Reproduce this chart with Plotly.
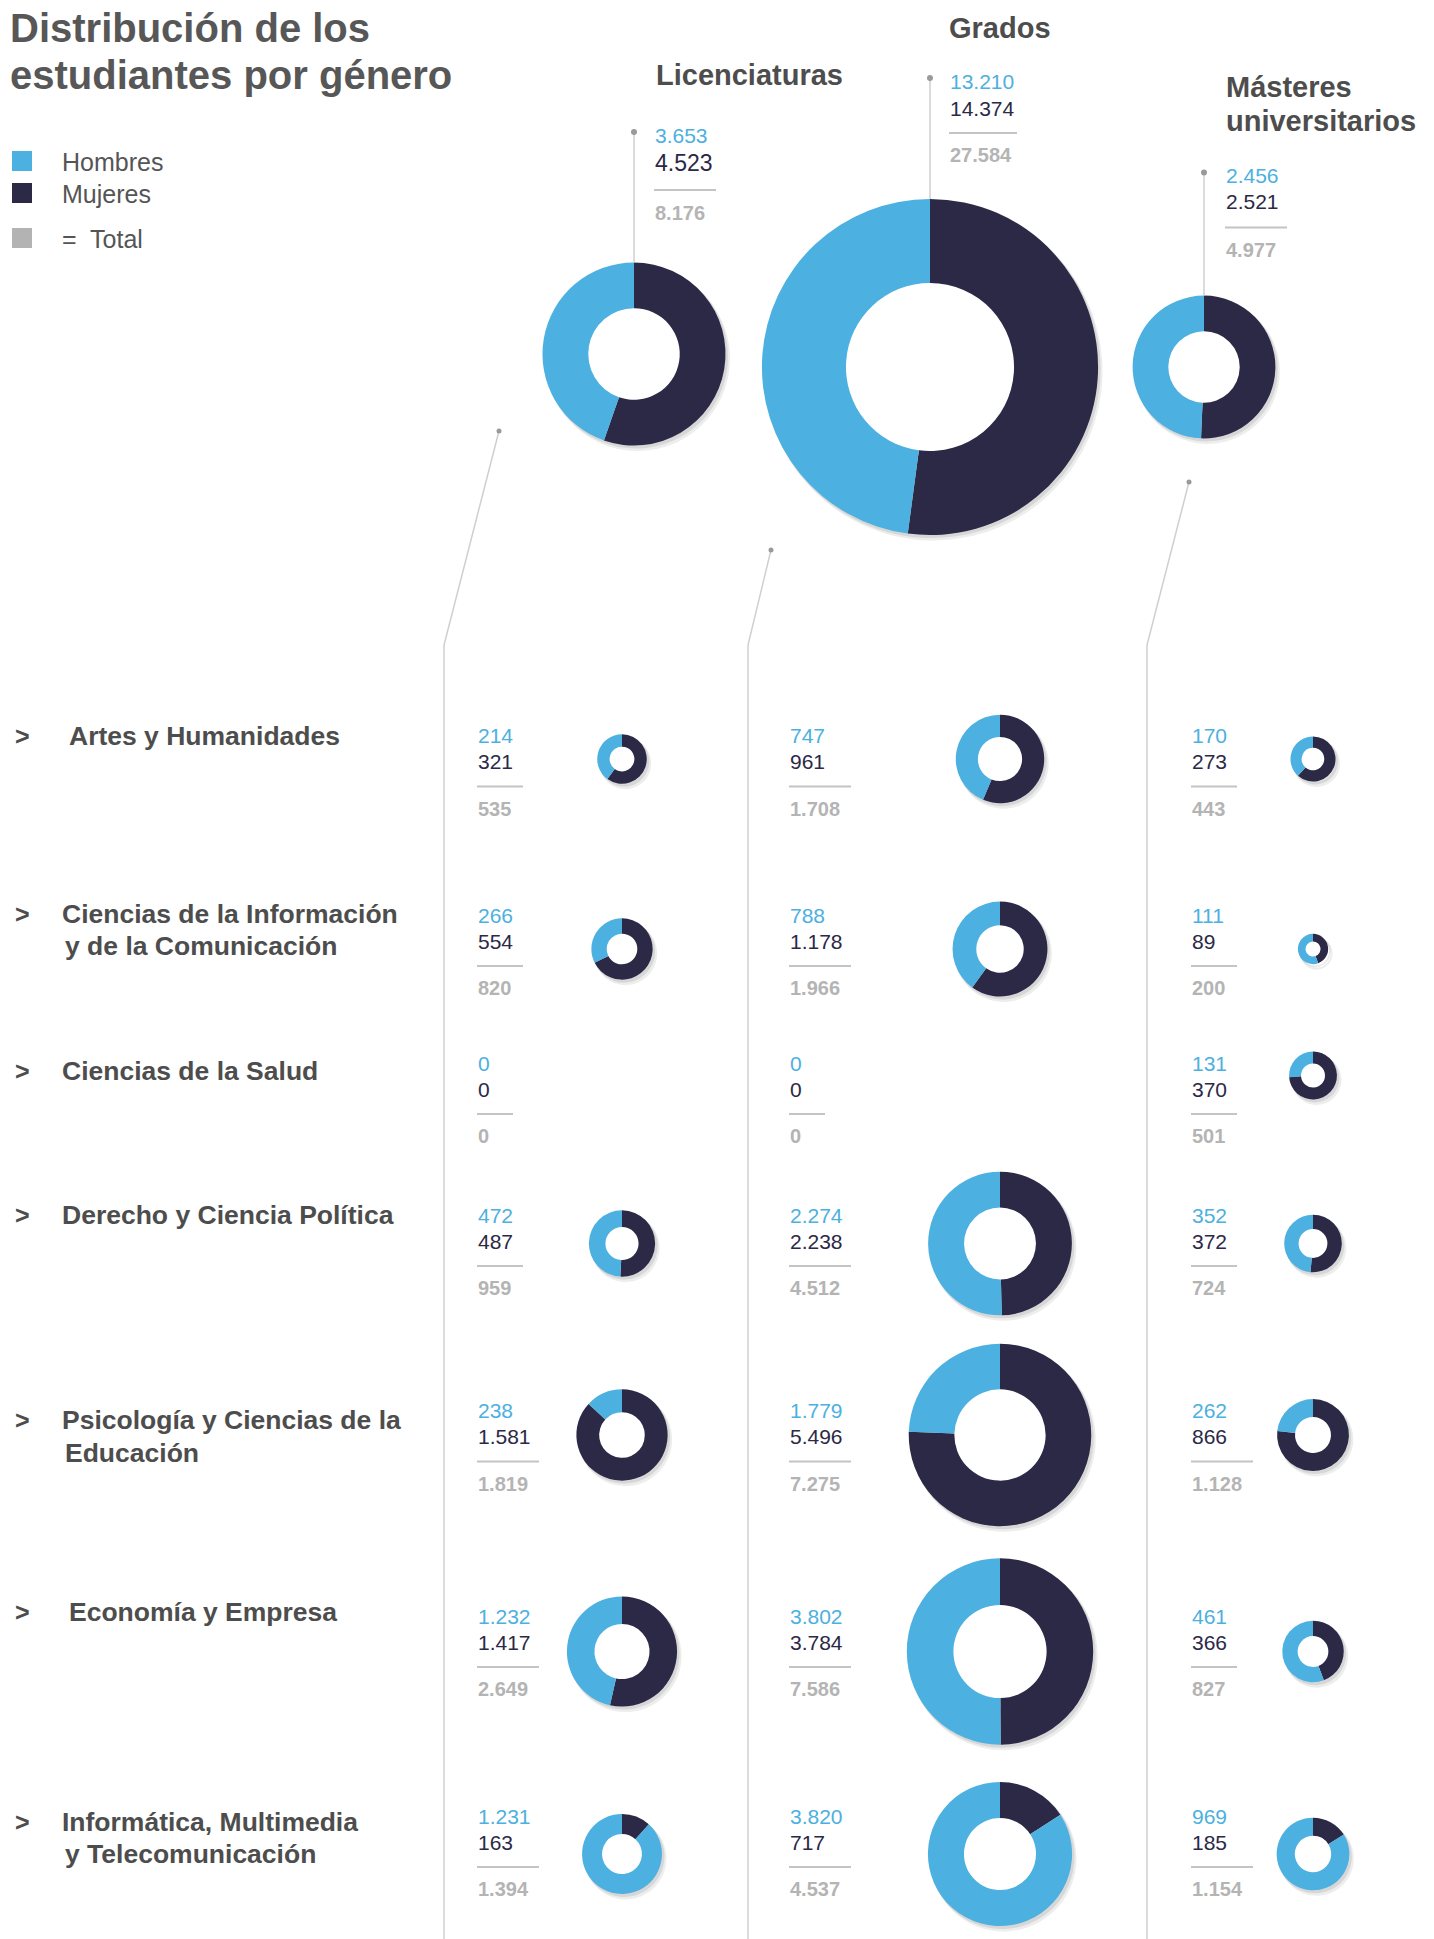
import plotly.graph_objects as go

W, H = 1434, 1939
OFF = 0  # body margin removed via post_script

# ---------------- data ----------------
level_names = ["Licenciaturas", "Grados", "Másteres", "universitarios"]
top_hombres = [3653, 13210, 2456]
top_mujeres = [4523, 14374, 2521]
top_total = [8176, 27584, 4977]

area_lines = [
    ["Artes y Humanidades"],
    ["Ciencias de la Información", "y de la Comunicación"],
    ["Ciencias de la Salud"],
    ["Derecho y Ciencia Política"],
    ["Psicología y Ciencias de la", "Educación"],
    ["Economía y Empresa"],
    ["Informática, Multimedia", "y Telecomunicación"],
]

lic_hombres = [214, 266, 0, 472, 238, 1232, 1231]
lic_mujeres = [321, 554, 0, 487, 1581, 1417, 163]
lic_total = [535, 820, 0, 959, 1819, 2649, 1394]

gra_hombres = [747, 788, 0, 2274, 1779, 3802, 3820]
gra_mujeres = [961, 1178, 0, 2238, 5496, 3784, 717]
gra_total = [1708, 1966, 0, 4512, 7275, 7586, 4537]

mas_hombres = [170, 111, 131, 352, 262, 461, 969]
mas_mujeres = [273, 89, 370, 372, 866, 366, 185]
mas_total = [443, 200, 501, 724, 1128, 827, 1154]

legend_labels = ["Hombres", "Mujeres", "=  Total"]
title_lines = ["Distribución de los", "estudiantes por género"]

# ---------------- styles / layout constants ----------------
BLUE = "#4cb0e0"
NAVY = "#2b2946"
TOTAL_GRAY = "#b4b4b4"
TEXT = "#555555"
LINE = "#cfcfcf"
FONT = "Liberation Sans, Arial, sans-serif"

TOP_K = 1.012     # px per sqrt(student)
ROW_K = 1.07

top_cx = [634, 930, 1204]
top_cy = [354, 367, 367]
top_num_x = [654, 949, 1225]
top_num_y = [135, 81, 175.5]
top_offsets = [(0, 28, 55, 78), (0, 27, 52, 74), (0, 26, 52, 74.5)]
top_mid_size = [23, 21, 21]

col_num_x = [477, 789, 1191]
col_donut_x = [622, 1000, 1313]
col_vline_x = [444, 748, 1147]
diag_start = [(499, 431), (771, 550), (1189, 482)]
diag_end_y = 645

row_num_y = [735.5, 915, 1063, 1215, 1410.5, 1616, 1816]
row_donut_y = [759, 949, 1075.5, 1243.5, 1435, 1651.5, 1854]
row_label_y = [[736], [913.5, 945.5], [1070.5], [1215], [1420, 1452.5], [1612], [1822, 1854]]
row_label_x = [68, 61, 61, 61, 61, 68, 61]
row_offsets = (0, 26, 51, 73)


def fmt(v):
    return f"{v:,}".replace(",", ".")


fig = go.Figure()
annotations = []
shapes = []


def ann(x, y, text, size, color, bold=False, xanchor="left"):
    annotations.append(dict(
        x=x, y=y, xref="x", yref="y", text=f"<b>{text}</b>" if bold else text,
        showarrow=False, xanchor=xanchor, yanchor="middle", borderpad=0,
        font=dict(family=FONT, size=size, color=color), align="left"))


shadow_traces = []
main_traces = []


def dom(cx, cy, r):
    return dict(x=[(cx - OFF - r) / W, (cx - OFF + r) / W],
                y=[1 - (cy - OFF + r) / H, 1 - (cy - OFF - r) / H])


def donut(cx, cy, r, h, m):
    rh = r * 0.5
    for (dx, dy, dr, col) in [(3.5, 4.5, 1.0, "rgba(0,0,0,0.07)"), (2, 2.5, 0.5, "rgba(0,0,0,0.09)")]:
        rs = r + dr
        hole = min(0.95, (rh + 6.5) / rs)
        shadow_traces.append(go.Pie(
            values=[h, m], sort=False, direction="clockwise", rotation=0,
            hole=hole, textinfo="none", hoverinfo="skip", showlegend=False,
            marker=dict(colors=[col, col], line=dict(width=0)),
            domain=dom(cx + dx, cy + dy, rs)))
    main_traces.append(go.Pie(
        values=[m, h], labels=["Mujeres", "Hombres"], sort=False,
        direction="clockwise", rotation=0, hole=0.5,
        textinfo="none", showlegend=False,
        marker=dict(colors=[NAVY, BLUE], line=dict(width=0)),
        domain=dom(cx, cy, r)))


def line_len(*vals):
    n = max(len(fmt(v)) for v in vals)
    return {1: 36, 2: 40, 3: 46, 4: 56, 5: 62, 6: 68}.get(n, 68)


def number_block(x, y0, h, m, t, offs, mid_size=21):
    ann(x, y0 + offs[0], fmt(h), 21, BLUE)
    ann(x, y0 + offs[1], fmt(m), mid_size, NAVY)
    L = line_len(h, m, t)
    shapes.append(dict(type="line", xref="x", yref="y", x0=x, x1=x + L,
                       y0=y0 + offs[2], y1=y0 + offs[2],
                       line=dict(color="#c4c4c4", width=2)))
    ann(x, y0 + offs[3], fmt(t), 20, TOTAL_GRAY, bold=True)


# ---- title ----
ann(9, 28, title_lines[0], 40, "#575757", bold=True)
ann(9, 75, title_lines[1], 40, "#575757", bold=True)

# ---- legend ----
leg_colors = [BLUE, NAVY, "#b3b3b3"]
leg_y = [161, 193, 238]
for lab, col, y in zip(legend_labels, leg_colors, leg_y):
    shapes.append(dict(type="rect", xref="x", yref="y", x0=12, x1=32, y0=y - 10, y1=y + 10,
                       fillcolor=col, line=dict(width=0)))
    ann(61, y + 1, lab, 25, TEXT)

# ---- headers ----
ann(655, 75, level_names[0], 29, "#4d4d4d", bold=True)
ann(948, 28, level_names[1], 29, "#4d4d4d", bold=True)
ann(1225, 87, level_names[2], 29, "#4d4d4d", bold=True)
ann(1225, 121, level_names[3], 29, "#4d4d4d", bold=True)

# ---- top donuts + leaders ----
for i in range(3):
    r = TOP_K * top_total[i] ** 0.5
    cx, cy = top_cx[i], top_cy[i]
    donut(cx, cy, r, top_hombres[i], top_mujeres[i])
    dot_y = top_num_y[i] - 3
    shapes.append(dict(type="line", xref="x", yref="y", x0=cx, x1=cx, y0=dot_y, y1=cy - r,
                       line=dict(color=LINE, width=1.5)))
    shapes.append(dict(type="circle", xref="x", yref="y", x0=cx - 3, x1=cx + 3,
                       y0=dot_y - 3, y1=dot_y + 3, fillcolor="#9a9a9a", line=dict(width=0)))
    number_block(top_num_x[i], top_num_y[i], top_hombres[i], top_mujeres[i], top_total[i],
                 top_offsets[i], top_mid_size[i])

# ---- diagonal connectors + column lines ----
for i in range(3):
    sx, sy = diag_start[i]
    vx = col_vline_x[i]
    shapes.append(dict(type="path", xref="x", yref="y",
                       path=f"M {sx},{sy} L {vx},{diag_end_y} L {vx},{H + 20}",
                       line=dict(color=LINE, width=1.5)))
    shapes.append(dict(type="circle", xref="x", yref="y", x0=sx - 2.5, x1=sx + 2.5,
                       y0=sy - 2.5, y1=sy + 2.5, fillcolor="#9a9a9a", line=dict(width=0)))

# ---- rows ----
cols = [(lic_hombres, lic_mujeres, lic_total),
        (gra_hombres, gra_mujeres, gra_total),
        (mas_hombres, mas_mujeres, mas_total)]
for j, lines in enumerate(area_lines):
    ann(14, row_label_y[j][0], "&gt;", 25, "#4d4d4d", bold=True)
    for k, txt in enumerate(lines):
        x = row_label_x[j] if k == 0 else 64
        ann(x, row_label_y[j][k], txt, 26.5, "#4d4d4d", bold=True)
    for i, (hh, mm, tt) in enumerate(cols):
        number_block(col_num_x[i], row_num_y[j], hh[j], mm[j], tt[j], row_offsets)
        if tt[j] > 0:
            r = ROW_K * tt[j] ** 0.5
            donut(col_donut_x[i], row_donut_y[j], r, hh[j], mm[j])

for tr in shadow_traces + main_traces:
    fig.add_trace(tr)

fig.update_layout(
    width=W, height=H, margin=dict(l=0, r=0, t=0, b=0),
    paper_bgcolor="white", plot_bgcolor="white",
    xaxis=dict(range=[OFF, W + OFF], visible=False, fixedrange=True),
    yaxis=dict(range=[H + OFF, OFF], visible=False, fixedrange=True),
    annotations=annotations, shapes=shapes, showlegend=False,
)

fig.write_html(
    "out.html",
    config={"displayModeBar": False},
    post_script="document.body.style.margin='0';document.body.style.overflow='hidden';",
)
